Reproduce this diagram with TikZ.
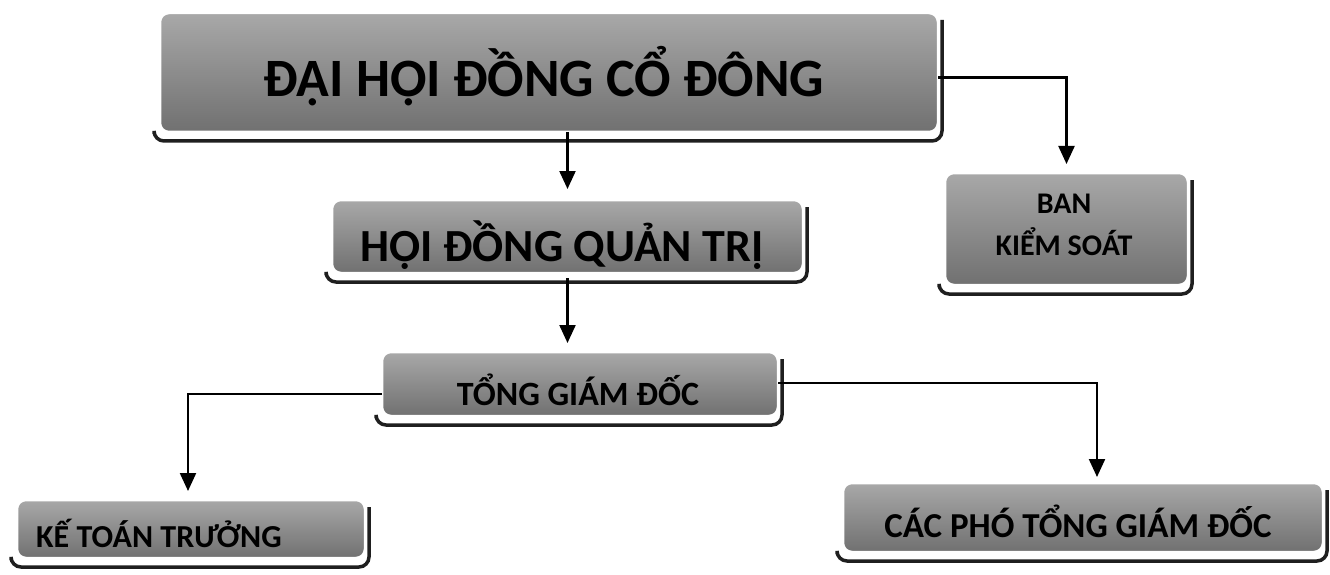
\documentclass[tikz,border=0pt]{standalone}
\usepackage{fontspec}
\setmainfont{Carlito}
\usetikzlibrary{arrows.meta,backgrounds}
\tikzset{
  gbox/.style={rectangle, rounded corners=9pt, draw=white, line width=2.5pt,
    top color=black!34, bottom color=black!56, inner sep=0pt, outer sep=0pt},
  shadowline/.style={draw=black!88, line width=3.5pt, rounded corners=10pt},
  boxtext/.style={inner sep=0pt, text=black, font=\bfseries},
  conn/.style={draw=black, line width=2.2pt, -{Triangle[width=16pt,length=18pt]}},
}
\newcommand{\gshadow}[1]{%
  \draw[shadowline] ([xshift=-6pt,yshift=-2pt]#1.south west) |- ([xshift=4pt,yshift=-9pt]#1.south east) -- ([xshift=4pt,yshift=-7pt]#1.north east);}
\begin{document}
\begin{tikzpicture}[x=1pt,y=-1pt]
\useasboundingbox (0,0) rectangle (1330,575);
% boxes
\node[gbox, minimum width=778pt, minimum height=119pt] (dhcd) at (549,72.5) {};
\node[gbox, minimum width=243pt, minimum height=112pt] (bks) at (1066.5,229) {};
\node[gbox, minimum width=471pt, minimum height=73pt] (hdqt) at (567.5,236.5) {};
\node[gbox, minimum width=396pt, minimum height=64pt] (tgd) at (580,384) {};
\node[gbox, minimum width=348pt, minimum height=58pt] (ktt) at (191,529) {};
\node[gbox, minimum width=480pt, minimum height=69pt] (cpt) at (1083,517.5) {};
\begin{scope}[on background layer]
\fill[white] (0,0) rectangle (1330,575);
\gshadow{dhcd}
\gshadow{bks}
\gshadow{hdqt}
\gshadow{tgd}
\gshadow{ktt}
\gshadow{cpt}
\end{scope}
% texts
\node[boxtext, font=\fontsize{54}{60}\selectfont\bfseries] (tdhcd) at (544,76) {ĐẠI HỘI ĐỒNG CỔ ĐÔNG};
\node[boxtext, font=\fontsize{30}{42}\selectfont\bfseries, align=center] (tbks) at (1064,225) {BAN\\KIỂM SOÁT};
\node[boxtext, font=\fontsize{46}{50}\selectfont\bfseries] (thdqt) at (562,245) {HỘI ĐỒNG QUẢN TRỊ};
\node[boxtext, font=\fontsize{34}{40}\selectfont\bfseries] (ttgd) at (578,390) {TỔNG GIÁM ĐỐC};
\node[boxtext, font=\fontsize{32}{40}\selectfont\bfseries, anchor=west] (tktt) at (36,533) {KẾ TOÁN TRƯỞNG};
\node[boxtext, font=\fontsize{35}{40}\selectfont\bfseries] (tcpt) at (1078,521) {CÁC PHÓ TỔNG GIÁM ĐỐC};
% connectors
\draw[conn, shorten >=11pt] (hdqt.north |- dhcd.south) -- (hdqt.north);
\draw[conn, shorten >=9pt] ([yshift=-5pt]dhcd.east) -| (bks.north);
\draw[conn, shorten >=9pt] ([yshift=-5pt]hdqt.south) -- (hdqt.south |- tgd.north);
\draw[conn, shorten >=9pt] ([yshift=-10pt]tgd.west) -| ([xshift=-3pt]ktt.north);
\draw[conn, shorten >=6pt] ([yshift=1pt]tgd.east) -| ([xshift=14pt]cpt.north);
\end{tikzpicture}
\end{document}
